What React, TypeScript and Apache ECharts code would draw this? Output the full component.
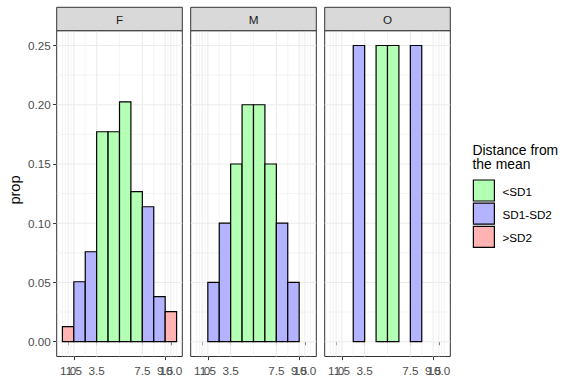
import React, { useEffect, useRef } from "react";
import * as echarts from "echarts";

// ---- data ----
const panelNames = ["F", "M", "O"];
const categories = ["<SD1", "SD1-SD2", ">SD2"];
const categoryColors = ["#B3FFB3", "#B3B3FF", "#FFB3B3"];

const fX = [1, 2, 3, 4, 5, 6, 7, 8, 9, 10];
const fProp = [0.0127, 0.0506, 0.0759, 0.1772, 0.1772, 0.2025, 0.1266, 0.1139, 0.038, 0.0253];
const fCat = [">SD2", "SD1-SD2", "SD1-SD2", "<SD1", "<SD1", "<SD1", "<SD1", "SD1-SD2", "SD1-SD2", ">SD2"];

const mX = [2, 3, 4, 5, 6, 7, 8, 9];
const mProp = [0.05, 0.1, 0.15, 0.2, 0.2, 0.15, 0.1, 0.05];
const mCat = ["SD1-SD2", "SD1-SD2", "<SD1", "<SD1", "<SD1", "<SD1", "SD1-SD2", "SD1-SD2"];

const oX = [3, 5, 6, 8];
const oProp = [0.25, 0.25, 0.25, 0.25];
const oCat = ["SD1-SD2", "<SD1", "<SD1", "SD1-SD2"];

// x breaks: two interleaved groups so that overlapping labels are both drawn
const xTicksA = [1, 3.5, 7.5, 10];
const xTickLabelsA = ["1.0", "3.5", "7.5", "10.0"];
const xTicksB = [1.5, 9.5];
const xTickLabelsB = ["1.5", "9.5"];
const xMinorLines = [0.5, 0.75, 1.25, 2.5, 5.5, 8.5, 9.75, 10.25, 10.5];
const yTicks = [0, 0.05, 0.1, 0.15, 0.2, 0.25];
const yTickLabels = ["0.00", "0.05", "0.10", "0.15", "0.20", "0.25"];
const yMinorLines = [0.025, 0.075, 0.125, 0.175, 0.225];

const X_MIN = 0;
const X_MAX = 11;
const Y_MIN = -0.0125;
const Y_MAX = 0.2625;

const FONT = "Liberation Sans, Arial, Helvetica, sans-serif";

export default function App() {
  const ref = useRef<HTMLDivElement>(null);

  useEffect(() => {
    if (!ref.current) return;
    const chart = echarts.init(ref.current, null, { renderer: "svg" });

    const panelData = [
      { x: fX, p: fProp, c: fCat },
      { x: mX, p: mProp, c: mCat },
      { x: oX, p: oProp, c: oCat },
    ];

    const gridLefts = [56.7, 190.7, 324.7];
    const gridW = 125.6;
    const gridTop = 30.7;
    const gridH = 325.8;

    const grids = gridLefts.map((l) => ({
      left: l,
      top: gridTop,
      width: gridW,
      height: gridH,
      show: true,
      backgroundColor: "#FFFFFF",
      borderColor: "#333333",
      borderWidth: 1,
      containLabel: false,
    }));

    const makeXAxis = (i: number, ticks: number[], labels: string[]) => ({
      type: "value",
      gridIndex: i,
      position: "bottom",
      offset: 0,
      min: X_MIN,
      max: X_MAX,
      axisLine: { show: false },
      splitLine: { show: false },
      axisTick: {
        show: true,
        customValues: ticks,
        length: 3.6,
        lineStyle: { color: "#333333", width: 1 },
      },
      axisLabel: {
        show: true,
        customValues: ticks,
        showMinLabel: true,
        showMaxLabel: true,
        hideOverlap: false,
        margin: 8,
        color: "#4D4D4D",
        fontSize: 11.7,
        fontFamily: FONT,
        formatter: (v: number) => {
          const idx = ticks.findIndex((t) => Math.abs(t - v) < 1e-9);
          return idx >= 0 ? labels[idx] : "";
        },
      },
    });

    const xAxes: any[] = [];
    gridLefts.forEach((_, i) => {
      xAxes.push(makeXAxis(i, xTicksA, xTickLabelsA));
    });
    gridLefts.forEach((_, i) => {
      xAxes.push(makeXAxis(i, xTicksB, xTickLabelsB));
    });

    const yAxes = gridLefts.map((_, i) => ({
      type: "value",
      gridIndex: i,
      min: Y_MIN,
      max: Y_MAX,
      axisLine: { show: false },
      splitLine: { show: false },
      axisTick: {
        show: i === 0,
        customValues: yTicks,
        length: 3.6,
        lineStyle: { color: "#333333", width: 1 },
      },
      axisLabel: {
        show: i === 0,
        customValues: yTicks,
        showMinLabel: true,
        showMaxLabel: true,
        margin: 6,
        color: "#4D4D4D",
        fontSize: 11.7,
        fontFamily: FONT,
        formatter: (v: number) => {
          const idx = yTicks.findIndex((t) => Math.abs(t - v) < 1e-9);
          return idx >= 0 ? yTickLabels[idx] : "";
        },
      },
    }));

    const gridLineData: number[][] = [];
    xTicksA.concat(xTicksB).forEach((v) => gridLineData.push([v, 0, 0, 1]));
    xMinorLines.forEach((v) => gridLineData.push([v, 0, 0, 0]));
    yTicks.forEach((v) => gridLineData.push([0, v, 1, 1]));
    yMinorLines.forEach((v) => gridLineData.push([0, v, 1, 0]));

    const series: any[] = [];
    panelData.forEach((pd, i) => {
      series.push({
        type: "custom",
        xAxisIndex: i,
        yAxisIndex: i,
        silent: true,
        z: 1,
        encode: { x: 0, y: 1 },
        data: gridLineData,
        renderItem: (_params: any, api: any) => {
          const kind = api.value(2);
          const major = api.value(3);
          let p0, p1;
          if (kind === 0) {
            p0 = api.coord([api.value(0), Y_MIN]);
            p1 = api.coord([api.value(0), Y_MAX]);
          } else {
            p0 = api.coord([X_MIN, api.value(1)]);
            p1 = api.coord([X_MAX, api.value(1)]);
          }
          return {
            type: "line",
            shape: { x1: p0[0], y1: p0[1], x2: p1[0], y2: p1[1] },
            style: { stroke: "#EBEBEB", lineWidth: major ? 1.07 : 0.53 },
          };
        },
      });
      series.push({
        type: "custom",
        xAxisIndex: i,
        yAxisIndex: i,
        z: 3,
        encode: { x: 0, y: 1 },
        data: pd.x.map((x, k) => [x, pd.p[k], categories.indexOf(pd.c[k])]),
        renderItem: (_params: any, api: any) => {
          const x = api.value(0);
          const y = api.value(1);
          const c = api.value(2);
          const a = api.coord([x - 0.5, 0]);
          const b = api.coord([x + 0.5, y]);
          return {
            type: "rect",
            shape: { x: a[0], y: b[1], width: b[0] - a[0], height: a[1] - b[1] },
            style: { fill: categoryColors[c], stroke: "#000000", lineWidth: 1.2 },
          };
        },
      });
    });

    const graphics: any[] = [];
    gridLefts.forEach((l, i) => {
      graphics.push({
        type: "rect",
        shape: { x: l, y: 7.3, width: gridW, height: gridTop - 7.3 },
        style: { fill: "#D9D9D9", stroke: "#333333", lineWidth: 1 },
        z: 10,
      });
      graphics.push({
        type: "text",
        x: l + gridW / 2,
        y: (7.3 + gridTop) / 2,
        style: {
          text: panelNames[i],
          fill: "#1A1A1A",
          font: `11.7px ${FONT}`,
          textAlign: "center",
          textVerticalAlign: "middle",
        },
        z: 11,
      });
    });

    graphics.push({
      type: "text",
      x: 15,
      y: 190,
      rotation: Math.PI / 2,
      style: {
        text: "prop",
        fill: "#000000",
        font: `14.6px ${FONT}`,
        textAlign: "center",
        textVerticalAlign: "middle",
      },
    });

    graphics.push({
      type: "text",
      x: 472.5,
      y: 142.5,
      style: {
        text: "Distance from\nthe mean",
        fill: "#000000",
        font: `13.9px ${FONT}`,
        lineHeight: 14,
        textAlign: "left",
        textVerticalAlign: "top",
      },
    });
    const keyTops = [180, 203.2, 226.4];
    categories.forEach((cat, k) => {
      graphics.push({
        type: "rect",
        shape: { x: 473.4, y: keyTops[k], width: 21, height: 21 },
        style: { fill: categoryColors[k], stroke: "#000000", lineWidth: 1.2 },
      });
      graphics.push({
        type: "text",
        x: 502.5,
        y: keyTops[k] + 11.5,
        style: { text: cat, fill: "#000000", font: `11.7px ${FONT}`, textAlign: "left", textVerticalAlign: "middle" },
      });
    });

    chart.setOption({
      animation: false,
      backgroundColor: "#FFFFFF",
      grid: grids,
      xAxis: xAxes,
      yAxis: yAxes,
      series,
      graphic: { elements: graphics },
    });

    return () => chart.dispose();
  }, []);

  return (
    <div
      ref={ref}
      style={{ position: "fixed", left: 0, top: 0, width: 576, height: 384 }}
    />
  );
}
